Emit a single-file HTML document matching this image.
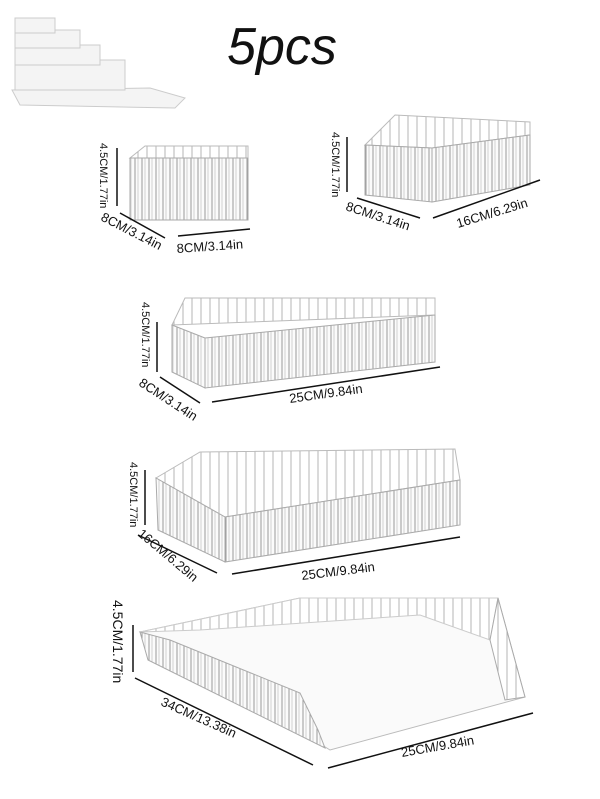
<!DOCTYPE html>
<html><head><meta charset="utf-8"><style>
html,body{margin:0;padding:0;background:#fff;}
svg{display:block;}
text{font-family:"Liberation Sans",sans-serif;fill:#111;}
</style></head><body>
<svg width="600" height="799" viewBox="0 0 600 799" xmlns="http://www.w3.org/2000/svg">
<defs>
<pattern id="st" width="7" height="10" patternUnits="userSpaceOnUse">
<rect width="7" height="10" fill="#fbfbfb"/><line x1="2" y1="0" x2="2" y2="10" stroke="#9a9a9a" stroke-width="1"/><line x1="5" y1="0" x2="5" y2="10" stroke="#d0d0d0" stroke-width="1"/>
</pattern>
<pattern id="st2" width="9" height="10" patternUnits="userSpaceOnUse">
<rect width="9" height="10" fill="#fff"/><line x1="3" y1="0" x2="3" y2="10" stroke="#b5b5b5" stroke-width="1"/>
</pattern>
</defs>

<text x="282" y="64" font-size="52" font-style="italic" text-anchor="middle" style="font-weight:500">5pcs</text>

<!-- thumbnail -->
<g fill="#f4f4f4" stroke="#ccc" stroke-width="1">
<polygon points="12,90 150,88 185,98 175,108 20,105"/>
<rect x="15" y="60" width="110" height="30"/>
<rect x="15" y="45" width="85" height="20"/>
<rect x="15" y="30" width="65" height="18"/>
<rect x="15" y="18" width="40" height="15"/>
</g>

<!-- tray1 -->
<polygon points="130,158 145,146 248,146 248,158" fill="url(#st2)" stroke="#bbb"/>
<rect x="130" y="158" width="118" height="62" fill="url(#st)" stroke="#aaa"/>
<line x1="117" y1="148" x2="117" y2="206" stroke="#111" stroke-width="1.5"/>
<text transform="translate(100,143) rotate(90)" font-size="11">4.5CM/1.77in</text>
<line x1="120" y1="213" x2="165" y2="238" stroke="#111" stroke-width="1.5"/>
<text transform="translate(100,220) rotate(27)" font-size="13">8CM/3.14in</text>
<line x1="178" y1="236" x2="250" y2="229" stroke="#111" stroke-width="1.5"/>
<text x="177" y="253" font-size="13" transform="rotate(-4 177 253)">8CM/3.14in</text>

<!-- tray2 -->
<polygon points="365,145 395,115 530,122 530,135 432,148" fill="url(#st2)" stroke="#bbb"/>
<polygon points="365,145 432,148 432,202 365,195" fill="url(#st)" stroke="#aaa"/>
<polygon points="432,148 530,135 530,185 432,202" fill="url(#st)" stroke="#aaa"/>
<line x1="347" y1="137" x2="347" y2="192" stroke="#111" stroke-width="1.5"/>
<text transform="translate(332,132) rotate(90)" font-size="11">4.5CM/1.77in</text>
<line x1="357" y1="198" x2="420" y2="218" stroke="#111" stroke-width="1.5"/>
<text transform="translate(345,210) rotate(18)" font-size="13">8CM/3.14in</text>
<line x1="433" y1="218" x2="540" y2="180" stroke="#111" stroke-width="1.5"/>
<text transform="translate(458,228) rotate(-17)" font-size="13">16CM/6.29in</text>

<!-- tray3 -->
<polygon points="172,325 185,298 435,298 435,315" fill="url(#st2)" stroke="#bbb"/>
<polygon points="172,325 205,338 205,388 172,372" fill="url(#st)" stroke="#aaa"/>
<polygon points="205,338 435,315 435,362 205,388" fill="url(#st)" stroke="#aaa"/>
<line x1="157" y1="322" x2="157" y2="372" stroke="#111" stroke-width="1.5"/>
<text transform="translate(142,302) rotate(90)" font-size="11">4.5CM/1.77in</text>
<line x1="160" y1="377" x2="200" y2="403" stroke="#111" stroke-width="1.5"/>
<text transform="translate(138,385) rotate(33)" font-size="13">8CM/3.14in</text>
<line x1="212" y1="402" x2="440" y2="367" stroke="#111" stroke-width="1.5"/>
<text transform="translate(290,403) rotate(-8)" font-size="13">25CM/9.84in</text>

<!-- tray4 -->
<polygon points="156,478 200,452 455,449 460,480 225,517" fill="url(#st2)" stroke="#bbb"/>
<polygon points="156,478 225,517 225,562 158,530" fill="url(#st)" stroke="#aaa"/>
<polygon points="225,517 460,480 460,525 225,562" fill="url(#st)" stroke="#aaa"/>
<line x1="145" y1="470" x2="145" y2="525" stroke="#111" stroke-width="1.5"/>
<text transform="translate(130,462) rotate(90)" font-size="11">4.5CM/1.77in</text>
<line x1="138" y1="535" x2="217" y2="573" stroke="#111" stroke-width="1.5"/>
<text transform="translate(137,535) rotate(40)" font-size="13">16CM/6.29in</text>
<line x1="232" y1="574" x2="460" y2="537" stroke="#111" stroke-width="1.5"/>
<text transform="translate(302,580) rotate(-7)" font-size="13">25CM/9.84in</text>

<!-- tray5 -->
<polygon points="140,632 300,598 498,598 525,697 330,750" fill="#fafafa" stroke="#bbb"/>
<polygon points="140,632 300,598 498,598 490,640 420,615 200,630" fill="url(#st2)" stroke="#ccc"/>
<polygon points="140,632 170,640 300,693 318,730 325,748 148,660" fill="url(#st)" stroke="#aaa"/>
<polygon points="490,640 498,598 525,697 505,700" fill="url(#st2)" stroke="#aaa"/>
<line x1="133" y1="625" x2="133" y2="672" stroke="#111" stroke-width="1.5"/>
<text transform="translate(113,600) rotate(90)" font-size="14">4.5CM/1.77in</text>
<line x1="135" y1="678" x2="313" y2="765" stroke="#111" stroke-width="1.5"/>
<text transform="translate(160,705) rotate(24)" font-size="13">34CM/13.38in</text>
<line x1="328" y1="768" x2="533" y2="713" stroke="#111" stroke-width="1.5"/>
<text transform="translate(402,757) rotate(-10)" font-size="13">25CM/9.84in</text>
</svg>
</body></html>
